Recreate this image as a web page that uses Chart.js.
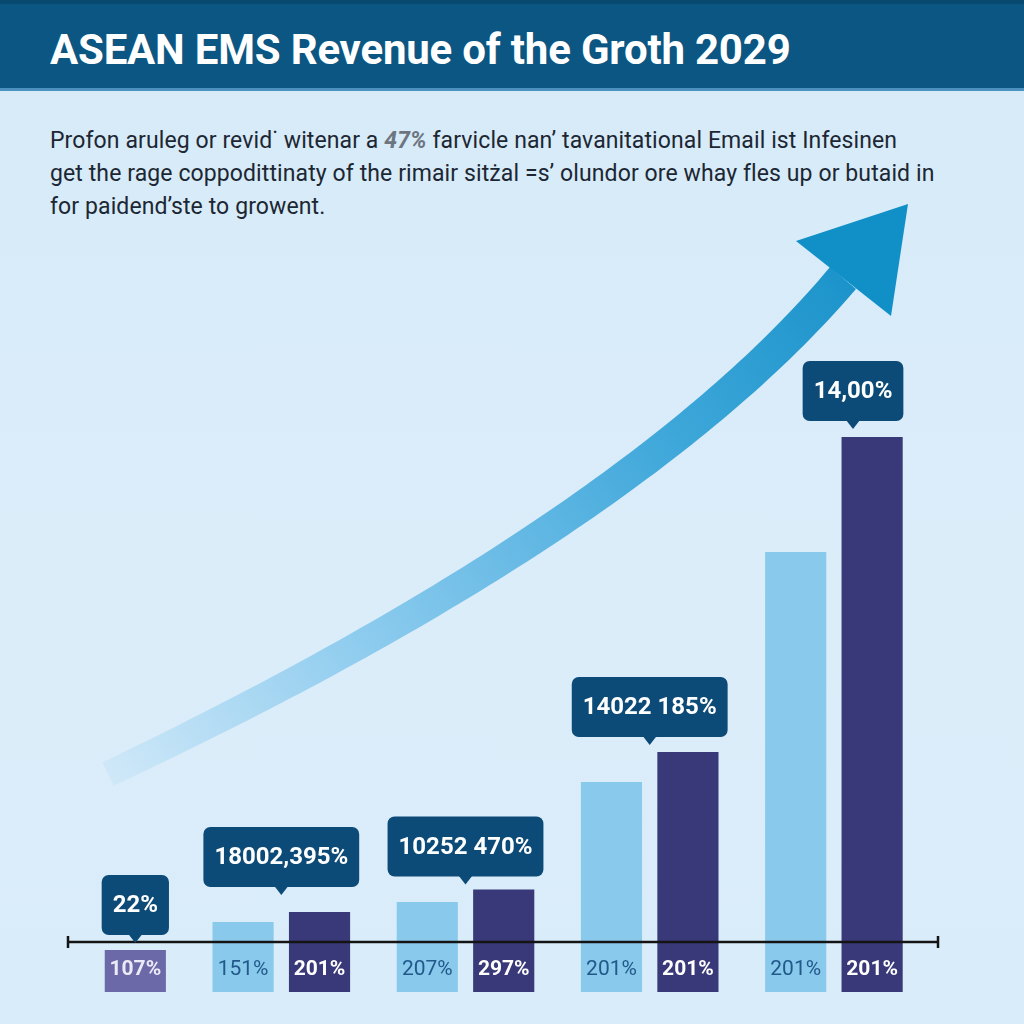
<!DOCTYPE html>
<html lang="en">
<head>
<meta charset="utf-8">
<title>ASEAN EMS Revenue of the Groth 2029</title>
<script src="https://cdn.jsdelivr.net/npm/chart.js"></script>
<style>
  html, body { margin: 0; padding: 0; }
  body {
    width: 1024px; height: 1024px; position: relative; overflow: hidden;
    background: linear-gradient(180deg, #d6eaf8 0%, #dcedfa 60%, #d9ecf9 100%);
    font-family: Roboto, "Liberation Sans", sans-serif;
  }
  .header {
    position: absolute; left: 0; top: 0; width: 1024px; height: 91px;
    box-sizing: border-box; background: #0b5682;
    border-top: 4px solid #08496f; border-bottom: 3px solid #4a91c0;
  }
  .header h1 {
    position: absolute; left: 50px; top: 25px; margin: 0;
    color: #fff; font-weight: bold; font-size: 42px; line-height: 42px;
    font-family: Roboto, "Liberation Sans", sans-serif;
    letter-spacing: -0.2px; white-space: nowrap;
  }
  .intro {
    position: absolute; left: 50px; top: 124px; margin: 0;
    color: #1c2733; font-size: 23px; line-height: 33px; white-space: nowrap;
    font-family: Roboto, "Liberation Sans", sans-serif; letter-spacing: 0.1px;
  }
  .intro b { color: #6d7680; font-style: italic; }
  #chartBox { position: absolute; left: 0; top: 0; }
</style>
</head>
<body>
<div class="header"><h1>ASEAN EMS Revenue of the Groth 2029</h1></div>
<p class="intro">Profon aruleg or revid&#729; witenar a <b>47%</b> farvicle nan&#8217; tavanitational Email ist Infesinen<br>get the rage coppodittinaty of the rimair sitżal =s&#8217; olundor ore whay fles up or butaid in<br>for paidend&#8217;ste to growent.</p>
<canvas id="chartBox" width="1024" height="1024"></canvas>

<script>
  // values (zero = the black axis line)
  const categories = ['Group 1', 'Group 2', 'Group 3', 'Group 4', 'Group 5'];
  const baseValue = -10;
  const lightValues = [null, 4, 8, 32, 78];
  const darkValues = [-1.6, 6, 10.5, 38, 101];
  const lightLabels = [null, '151%', '207%', '201%', '201%'];
  const darkLabels = ['107%', '201%', '297%', '201%', '201%'];
  const calloutLabels = ['22%', '18002,395%', '10252 470%', '14022 185%', '14,00%'];

  const darkColors = darkValues.map((v, i) => i === 0 ? '#6c69a9' : '#393878');

  function drawArrow(ctx) {
    const P = [[108, 774], [408, 632], [687, 463], [843, 278]];
    const n = 80;
    const left = [], right = [];
    for (let k = 0; k <= n; k++) {
      const t = k / n, m = 1 - t;
      const px = m*m*m*P[0][0] + 3*m*m*t*P[1][0] + 3*m*t*t*P[2][0] + t*t*t*P[3][0];
      const py = m*m*m*P[0][1] + 3*m*m*t*P[1][1] + 3*m*t*t*P[2][1] + t*t*t*P[3][1];
      const dx = 3*m*m*(P[1][0]-P[0][0]) + 6*m*t*(P[2][0]-P[1][0]) + 3*t*t*(P[3][0]-P[2][0]);
      const dy = 3*m*m*(P[1][1]-P[0][1]) + 6*m*t*(P[2][1]-P[1][1]) + 3*t*t*(P[3][1]-P[2][1]);
      const len = Math.hypot(dx, dy);
      const nx = -dy / len, ny = dx / len;
      const w = (26 + 8 * t) / 2;
      left.push([px + nx * w, py + ny * w]);
      right.push([px - nx * w, py - ny * w]);
    }
    const grad = ctx.createLinearGradient(108, 774, 900, 210);
    grad.addColorStop(0, '#cfe8f8');
    grad.addColorStop(0.3, '#8ccbee');
    grad.addColorStop(0.65, '#42a9db');
    grad.addColorStop(1, '#0f8dc5');
    ctx.save();
    ctx.fillStyle = grad;
    ctx.beginPath();
    left.forEach((p, i) => i ? ctx.lineTo(p[0], p[1]) : ctx.moveTo(p[0], p[1]));
    right.reverse().forEach(p => ctx.lineTo(p[0], p[1]));
    ctx.closePath();
    ctx.fill();
    ctx.fillStyle = '#1090c7';
    ctx.beginPath();
    ctx.moveTo(908, 204);
    ctx.lineTo(796, 241);
    ctx.lineTo(891, 316);
    ctx.closePath();
    ctx.fill();
    ctx.restore();
  }

  function roundRect(ctx, x, y, w, h, r) {
    ctx.beginPath();
    ctx.moveTo(x + r, y);
    ctx.arcTo(x + w, y, x + w, y + h, r);
    ctx.arcTo(x + w, y + h, x, y + h, r);
    ctx.arcTo(x, y + h, x, y, r);
    ctx.arcTo(x, y, x + w, y, r);
    ctx.closePath();
  }

  const decor = {
    id: 'decor',
    beforeDatasetsDraw(chart) {
      drawArrow(chart.ctx);
    },
    afterDatasetsDraw(chart, args, opts) {
      const ctx = chart.ctx;
      const { x, y } = chart.scales;
      const area = chart.chartArea;
      const zero = y.getPixelForValue(0);
      const bottom = y.getPixelForValue(baseValue);
      const labelY = (zero + bottom) / 2 + 3;
      const lightMeta = chart.getDatasetMeta(0);
      const darkMeta = chart.getDatasetMeta(1);

      ctx.save();
      ctx.textAlign = 'center';
      ctx.textBaseline = 'middle';

      // labels inside the bars, under the axis
      ctx.font = '21px Roboto';
      ctx.fillStyle = '#22598a';
      lightMeta.data.forEach((bar, i) => {
        if (lightLabels[i]) ctx.fillText(lightLabels[i], bar.x, labelY);
      });
      ctx.font = 'bold 21px Roboto';
      darkMeta.data.forEach((bar, i) => {
        ctx.fillStyle = i === 0 ? '#eceaf6' : '#ffffff';
        ctx.fillText(darkLabels[i], bar.x, labelY);
      });

      // axis line with end caps
      const x0 = area.left + 63, x1 = area.right + 12;
      ctx.strokeStyle = '#141414';
      ctx.lineWidth = 2.5;
      ctx.beginPath();
      ctx.moveTo(x0, zero); ctx.lineTo(x1, zero);
      ctx.moveTo(x0, zero - 6); ctx.lineTo(x0, zero + 6);
      ctx.moveTo(x1, zero - 6); ctx.lineTo(x1, zero + 6);
      ctx.stroke();

      // callouts
      ctx.font = 'bold 24px Roboto';
      calloutLabels.forEach((txt, i) => {
        const cx = x.getPixelForValue(i);
        const ax = cx + (darkMeta.data[i].x - cx) * opts.shift[i];
        const tipY = darkValues[i] <= 0 ? zero + 1 : y.getPixelForValue(darkValues[i]) - opts.gap[i];
        const boxBottom = tipY - 8;
        const h = opts.height;
        const w = ctx.measureText(txt).width + opts.pad * 2;
        ctx.fillStyle = '#0c4b77';
        roundRect(ctx, ax - w / 2, boxBottom - h, w, h, 7);
        ctx.fill();
        ctx.beginPath();
        ctx.moveTo(ax - 7, boxBottom - 1);
        ctx.lineTo(ax + 7, boxBottom - 1);
        ctx.lineTo(ax, tipY);
        ctx.closePath();
        ctx.fill();
        ctx.fillStyle = '#ffffff';
        ctx.fillText(txt, ax, boxBottom - h / 2 + 1);
      });
      ctx.restore();
    }
  };

  new Chart(document.getElementById('chartBox'), {
    type: 'bar',
    data: {
      labels: categories,
      datasets: [{
        label: 'Light',
        data: lightValues.map(v => v === null ? null : [baseValue, v]),
        backgroundColor: '#89c9ec',
        borderWidth: 0
      }, {
        label: 'Dark',
        data: darkValues.map(v => [baseValue, v]),
        backgroundColor: darkColors,
        borderWidth: 0
      }]
    },
    options: {
      responsive: false,
      devicePixelRatio: 1,
      animation: false,
      layout: { padding: { left: 5, right: 98, top: 192, bottom: 32 } },
      datasets: { bar: { categoryPercentage: 0.83, barPercentage: 0.8 } },
      scales: {
        x: { display: false },
        y: { display: false, min: -10, max: 150 }
      },
      plugins: {
        legend: { display: false },
        tooltip: { enabled: false },
        decor: { shift: [1, 0, 0, 0, 0.5], gap: [0, 17, 5, 7, 8], height: 60, pad: 11 }
      }
    },
    plugins: [decor]
  });
</script>
</body>
</html>
